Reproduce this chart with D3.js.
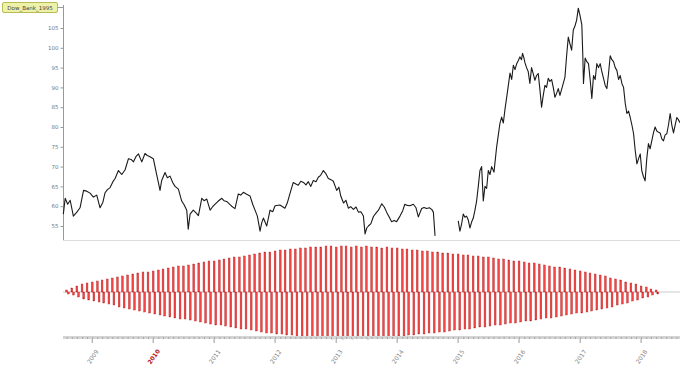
<!DOCTYPE html>
<html><head><meta charset="utf-8">
<script src="https://cdn.jsdelivr.net/npm/d3@7"></script>
<style>body{margin:0;background:#fff}svg{display:block}text{font-family:"DejaVu Sans",sans-serif}</style>
</head><body><svg id="c" width="680" height="371"></svg>
<script>
const title = "Dow_Bank_1995";
const yTicks = [55,60,65,70,75,80,85,90,95,100,105];
const yearTicks = ["2009","2010","2011","2012","2013","2014","2015","2016","2017","2018"];
const highlightYear = "2010";
const priceDates = ["2008-07-12","2008-07-23","2008-08-07","2008-08-22","2008-09-10","2008-10-01","2008-10-20","2008-11-10","2008-11-29","2008-12-19",
"2009-01-08","2009-01-28","2009-02-17","2009-03-06","2009-03-19","2009-04-02","2009-04-18","2009-05-05","2009-05-18","2009-06-07",
"2009-06-27","2009-07-17","2009-08-06","2009-08-22","2009-09-05","2009-09-21","2009-10-05","2009-10-25","2009-11-13","2009-11-27",
"2009-12-13","2010-01-02","2010-01-22","2010-02-01","2010-02-11","2010-02-21","2010-03-13","2010-03-27","2010-04-12","2010-04-28",
"2010-05-12","2010-06-01","2010-06-21","2010-07-06","2010-07-21","2010-07-30","2010-08-10","2010-08-29","2010-09-15","2010-09-29",
"2010-10-19","2010-11-02","2010-11-18","2010-12-08","2010-12-22","2011-01-07","2011-01-26","2011-02-16","2011-03-01","2011-03-17",
"2011-04-02","2011-04-16","2011-05-06","2011-05-26","2011-06-09","2011-06-25","2011-07-15","2011-08-04","2011-08-20","2011-09-03",
"2011-09-17","2011-10-03","2011-10-13","2011-10-23","2011-11-12","2011-12-02","2011-12-18","2012-01-01","2012-01-30","2012-02-29",
"2012-03-14","2012-03-30","2012-04-19","2012-05-05","2012-05-19","2012-06-03","2012-06-19","2012-07-04","2012-07-18","2012-08-02",
"2012-08-17","2012-09-02","2012-09-16","2012-09-30","2012-10-16","2012-10-30","2012-11-15","2012-12-01","2012-12-15","2013-01-04",
"2013-01-17","2013-01-29","2013-02-14","2013-02-28","2013-03-15","2013-03-29","2013-04-14","2013-04-30","2013-05-14","2013-05-29",
"2013-06-13","2013-06-23","2013-07-03","2013-07-13","2013-07-28","2013-08-12","2013-08-26","2013-09-11","2013-10-01","2013-10-16",
"2013-10-30","2013-11-15","2013-11-29","2013-12-15","2013-12-29","2014-01-18","2014-02-03","2014-02-16","2014-03-03","2014-03-19",
"2014-04-08","2014-04-24","2014-05-08","2014-05-28","2014-06-11","2014-06-27","2014-07-13","2014-07-27","2014-08-06","2014-08-16",
"2014-10-15",
"2015-01-02","2015-01-12","2015-01-22","2015-02-01","2015-02-11","2015-02-21","2015-03-03","2015-03-13","2015-03-23","2015-04-02",
"2015-04-12","2015-04-22","2015-05-02","2015-05-12","2015-05-22","2015-06-01","2015-06-11","2015-06-21","2015-07-01","2015-07-11",
"2015-07-21","2015-08-04","2015-08-20","2015-08-30","2015-09-09","2015-09-19","2015-09-29","2015-10-09","2015-10-19","2015-10-29",
"2015-11-08","2015-11-18","2015-11-28","2015-12-08","2015-12-18","2015-12-28","2016-01-06","2016-01-16","2016-01-22","2016-01-30",
"2016-02-05","2016-02-15","2016-02-25","2016-03-06","2016-03-16","2016-03-26","2016-04-05","2016-04-15","2016-04-25","2016-05-05",
"2016-05-15","2016-05-25","2016-06-04","2016-06-14","2016-06-24","2016-07-04","2016-07-14","2016-07-24","2016-08-03","2016-08-13",
"2016-08-23","2016-09-02","2016-09-12","2016-09-22","2016-10-02","2016-10-12","2016-10-22","2016-11-01","2016-11-11","2016-11-21",
"2016-12-01","2016-12-11","2016-12-21","2017-01-01","2017-01-11","2017-01-17","2017-01-21","2017-01-31","2017-02-10","2017-02-20",
"2017-03-02","2017-03-12","2017-03-22","2017-04-01","2017-04-11","2017-04-21","2017-05-01","2017-05-11","2017-05-21","2017-05-31",
"2017-06-10","2017-06-20","2017-06-30","2017-07-10","2017-07-20","2017-07-30","2017-08-09","2017-08-19","2017-08-29","2017-09-08",
"2017-09-18","2017-09-28","2017-10-08","2017-10-18","2017-10-28","2017-11-07","2017-11-17","2017-11-27","2017-12-07","2017-12-17",
"2017-12-27","2018-01-05","2018-01-15","2018-01-25","2018-02-04","2018-02-14","2018-02-24","2018-03-06","2018-03-16","2018-03-26",
"2018-04-05","2018-04-15","2018-04-25","2018-05-05","2018-05-15","2018-05-25","2018-06-04","2018-06-14","2018-06-24","2018-07-04",
"2018-07-14","2018-07-24","2018-08-03","2018-08-13","2018-08-22"];
const priceValues = [58,62,60.5,61.5,57.5,58.5,59.6,64,63.8,63.3,
62.3,62.8,59.6,61,63.4,64.2,64.7,66.2,67,69,
68,69.2,72,71.8,71.2,72.6,73.2,71.2,73.3,72.8,
72.5,72,68,66,64,66.5,68.5,67.2,67.6,66,
65,64.3,61.3,60.3,59,54.2,58,59,58.3,57.6,
62,61.4,61.8,59,59.8,60.5,61.3,62,61.4,61.2,
60.6,60,59.4,63.1,62.8,63.5,63,62.6,60.5,59,
57.5,53.7,55.8,57,55,59,58.6,60.1,60.3,59.5,
60.8,63.2,66,65.6,65.3,66.3,66,65.4,66.2,65,
66.5,66.2,67.3,67.8,69,68.3,67,66.7,66.3,64,
64.8,62.5,60.8,61.5,59.5,59.9,59.2,59.8,58.5,58.6,
57.5,53,54.5,55,55.6,57.4,58.2,59,60.6,59.8,
58.5,57.2,56.1,56.4,56.1,57.5,58.8,60.5,60.2,60.1,
60.5,59.6,57.3,59.4,59.7,59.4,59.6,59.2,58.5,52.5,
null,
56.3,53.7,55.5,58,57.2,57.5,56.5,54.5,56,57,
59,61.3,65,69,70,61.3,65,64.5,69,68,
70,68.6,75,78,81,82.5,81,84.5,87.5,90.5,
93.6,92,95.6,94.5,96,96.8,97.7,97,98.6,97.5,
96.3,95,94,91,95,93.5,91.8,93,93.5,89.5,
85,88,90.5,90,92.3,91.5,92,90,87.5,88.5,
89.7,88,89.5,91,92.6,98,102.7,101,99.4,104.5,
105.5,107,110,108,105.8,98,91,97.4,96.5,96,
92,87.2,93,92,96,95,96,94,92.3,90.5,
89.7,93.5,98,97,96.5,95,94.3,92,93,91,
90,86,83.4,84,82.4,80.5,78.3,74,70.7,72,
73.2,69,67.5,66.4,72,75.8,74.5,76.5,78.5,80,
79,78.7,78.5,77,76.5,78,78.3,80.5,83.4,80.5,
78.5,80.5,82.4,81.8,81.1];
const barStart = "2008-08", barEnd = "2018-05"; // monthly bars, end exclusive
const barUp = [2,4,6,8,9,10,11,12,13,14,
15,16,17,18,19,20,20,21,22,23,
24,25,26,26,27,28,29,30,31,31,
32,33,34,35,35,36,37,38,39,40,
40,41,42,42,43,43,44,44,45,45,
45,46,46,45,46,46,45,46,45,46,
45,45,44,45,44,44,43,43,42,42,
41,41,40,40,39,39,38,38,37,37,
36,36,35,35,34,33,33,32,31,31,
30,29,29,28,27,26,25,25,24,23,
22,21,20,19,18,17,16,14,13,12,
10,9,8,6,5,3,2];
const barDown = [2,3,5,7,8,9,10,11,12,13,
15,16,17,18,19,20,21,22,23,24,
25,26,27,27,28,29,30,31,32,33,
33,34,35,36,37,37,38,39,40,41,
41,42,42,43,43,44,44,45,45,46,
46,46,47,46,47,46,47,46,46,47,
46,46,45,45,45,44,44,43,43,42,
42,41,41,40,40,39,38,38,37,37,
36,35,35,34,33,33,32,31,31,30,
29,29,28,27,26,26,25,24,23,22,
21,21,20,19,18,17,16,15,13,12,
11,9,8,6,5,3,2];

const svg = d3.select("#c");
const parse = d3.timeParse("%Y-%m-%d");
const pm = d3.timeParse("%Y-%m");
const x = d3.scaleTime().domain([parse("2008-07-10"), parse("2018-08-22")]).range([63, 680]);
const y = d3.scaleLinear().domain([55, 105]).range([226, 28]);
const yLow = d3.scaleLinear().domain([-50, 50]).range([342, 242]);

// frame lines
svg.append("line").attr("x1",63).attr("x2",680).attr("y1",240.5).attr("y2",240.5).attr("stroke","#ddd");
svg.append("line").attr("x1",63).attr("x2",680).attr("y1",yLow(0)).attr("y2",yLow(0)).attr("stroke","#ccc");

// y axis
const ya = svg.append("g").attr("transform","translate(63.5,0)")
  .call(d3.axisLeft(y).tickValues(yTicks).tickSize(3).tickFormat(d3.format("d")));
ya.select(".domain").attr("d","M0,5V240").attr("stroke","#999");
ya.selectAll(".tick line").attr("stroke","#999");
ya.selectAll("text").attr("font-size",5.5).attr("fill","#777").attr("x",-5);

// price line
const pts = priceDates.map((d,i)=>({d:parse(d), v:priceValues[i]}));
svg.append("path").datum(pts)
  .attr("fill","none").attr("stroke","#1a1a1a").attr("stroke-width",1.1).attr("stroke-linejoin","round")
  .attr("d", d3.line().defined(p=>p.v!=null).x(p=>x(p.d)).y(p=>y(p.v)));

// bars
const months = d3.timeMonth.range(pm(barStart), pm(barEnd));
const gb = svg.append("g");
months.forEach((m,i)=>{
  const xu = x(m), xd = x(d3.timeDay.offset(m, 10));
  gb.append("rect").attr("x", xu-0.9).attr("width",1.8)
    .attr("y", yLow(barUp[i])).attr("height", yLow(0)-yLow(barUp[i]))
    .attr("fill","#f54545").attr("stroke","#b52525").attr("stroke-width",0.4);
  gb.append("rect").attr("x", xd-0.9).attr("width",1.8)
    .attr("y", yLow(0)).attr("height", yLow(-barDown[i])-yLow(0))
    .attr("fill","#f54545").attr("stroke","#b52525").attr("stroke-width",0.4);
});

// bottom x axis band
svg.append("rect").attr("x",63).attr("y",336).attr("width",617).attr("height",3).attr("fill","#d4d4d4");
const xa = svg.append("g").attr("transform","translate(0,337)")
  .call(d3.axisBottom(x).ticks(d3.timeMonth.every(1)).tickSize(2).tickFormat(""));
xa.select(".domain").remove();
xa.selectAll(".tick line").attr("stroke","#888").attr("stroke-width",0.6);
const yearDates = yearTicks.map(s=>pm(s+"-01"));
const xl = svg.append("g");
yearDates.forEach((d,i)=>{
  xl.append("line").attr("x1",x(d)).attr("x2",x(d)).attr("y1",339).attr("y2",343).attr("stroke","#999");
  xl.append("text").attr("transform",`translate(${x(d)+1},357) rotate(-55)`)
    .attr("text-anchor","middle").attr("dominant-baseline","middle")
    .attr("font-size",6).attr("fill", yearTicks[i]===highlightYear ? "#b02020" : "#888")
    .attr("font-weight", yearTicks[i]===highlightYear ? "bold" : "normal")
    .text(yearTicks[i]);
});

// title box
svg.append("line").attr("x1",57).attr("x2",63).attr("y1",7.5).attr("y2",7.5).attr("stroke","#999");
svg.append("rect").attr("x",2.5).attr("y",2.5).attr("width",55).attr("height",10).attr("rx",1.5)
  .attr("fill","#eef2a8").attr("stroke","#b8bb55");
svg.append("text").attr("x",30).attr("y",9.8).attr("text-anchor","middle").attr("font-size",5.5).attr("fill","#444").text(title);
</script></body></html>
